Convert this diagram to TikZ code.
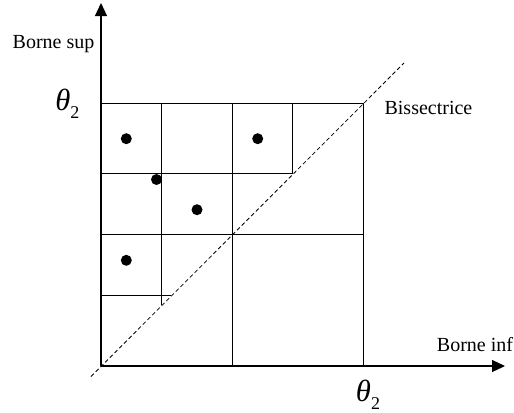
\documentclass[tikz,border=0pt]{standalone}
\usepackage{fontspec}
\setmainfont{Liberation Serif}
\usetikzlibrary{arrows.meta}
\begin{document}
\begin{tikzpicture}[x=0.75pt,y=-0.75pt,
  grid/.style={line width=0.75pt},
  axis/.style={line width=0.9pt,-{Triangle[length=9.75pt,width=9pt]}},
  bis/.style={line width=0.6pt,dash pattern=on 3pt off 2pt},
  pt/.style={fill=black},
  lab/.style={inner sep=0pt,font=\fontsize{15}{18}\selectfont},
  th/.style={inner sep=0pt}]
\useasboundingbox (0,0) rectangle (514,412);
% named points
\coordinate (O) at (101,366);
\coordinate (ytop) at (101,3);
\coordinate (xend) at (505,366);
\coordinate (d1) at (91,376.5);
\coordinate (d2) at (404,63);
% grid
\draw[grid] (101,103) rectangle (363,366);
\draw[grid] (232,103) -- (232,366);
\draw[grid] (101,234.5) -- (363,234.5);
\draw[grid] (101,173.7) -- (292.7,173.7);
\draw[grid] (161.7,103) -- (161.7,234.5);
\draw[grid] (292.7,103) -- (292.7,173.7);
\draw[grid] (161.7,234.5) -- (161.7,305);
\draw[grid] (101,295.7) -- (171.3,295.7);
% diagonal
\draw[bis] (d1) -- (d2);
% axes
\draw[axis] (O) -- (ytop);
\draw[axis] (O) -- (xend);
% points
\fill[pt] (126.3,138.7) circle (5.5);
\fill[pt] (257.7,138.7) circle (5.5);
\fill[pt] (156.5,179.5) circle (5.5);
\fill[pt] (197,209.7) circle (5.5);
\fill[pt] (126.3,260.3) circle (5.5);
% labels
\node[lab,anchor=base] (bsup) at (53.5,48) {Borne sup};
\node[lab,anchor=base west] (bis) at (384.3,114) {Bissectrice};
\node[lab,anchor=base west] (binf) at (436.7,351.7) {Borne inf};
\node[th,anchor=base west] (t1) at (55,110) {\fontsize{23}{26}\selectfont\itshape θ\raisebox{-6pt}{\fontsize{13.5}{14}\selectfont\upshape 2}};
\node[th,anchor=base west] (t2) at (355.7,401.7) {\fontsize{23}{26}\selectfont\itshape θ\raisebox{-6pt}{\fontsize{13.5}{14}\selectfont\upshape 2}};
\end{tikzpicture}
\end{document}
